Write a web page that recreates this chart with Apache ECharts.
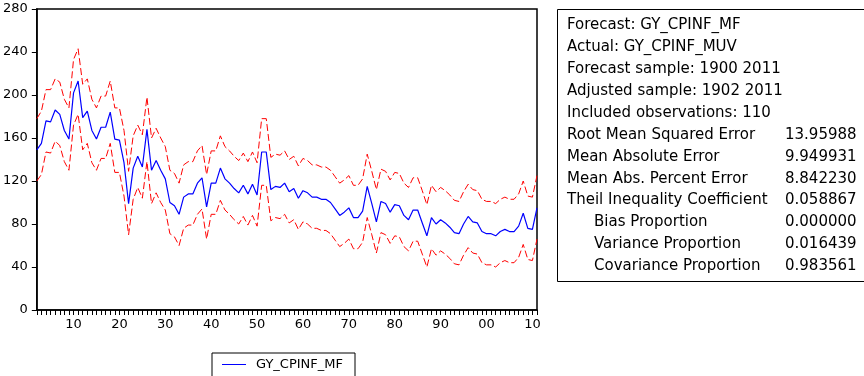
<!DOCTYPE html>
<html>
<head>
<meta charset="utf-8">
<script src="https://cdn.jsdelivr.net/npm/echarts@6/dist/echarts.min.js"></script>
<style>
  html, body { margin: 0; padding: 0; background: #fff; }
  #chart { width: 864px; height: 376px; }
</style>
</head>
<body>
<div id="chart"></div>
<script>
// sample 1902..2011
const firstYear = 1902
const lastYear = 2011
const years = []
for (let y = firstYear; y <= lastYear; y++) years.push(String(y))

const forecast = [
  149, 155, 176, 175, 186, 182, 167, 159, 202, 213,
  179, 185, 167, 159, 170, 170, 184, 159, 158, 137,
  99, 132, 143, 133, 168, 130, 139, 130, 122, 100,
  97, 89, 105, 108, 108, 118, 123, 96, 118, 118,
  132, 122, 118, 113, 109, 116, 108, 117, 107, 147,
  147, 112, 115, 114, 118, 110, 113, 104, 111, 109,
  105, 105, 103, 103, 100, 94, 88, 91, 95, 86,
  86, 92, 115, 99, 82, 101, 99, 91, 98, 97,
  88, 84, 93, 93, 81, 69, 86, 80, 84, 81,
  77, 72, 71, 80, 87, 82, 81, 73, 71, 71,
  69, 73, 75, 73, 73, 78, 90, 76, 75, 95
]

// +2 S.E.
const upperBand = [
  178, 185, 205, 205, 215, 212, 196, 188, 233, 243,
  210, 215, 196, 188, 199, 199, 213, 188, 188, 167,
  129, 162, 172, 163, 198, 160, 169, 160, 152, 130,
  127, 118, 135, 138, 138, 148, 153, 126, 148, 148,
  162, 152, 148, 143, 139, 146, 138, 147, 137, 178,
  178, 142, 145, 144, 148, 140, 143, 134, 141, 139,
  135, 135, 133, 133, 130, 124, 118, 121, 125, 116,
  116, 122, 145, 129, 112, 131, 129, 121, 128, 127,
  118, 114, 123, 123, 111, 98, 116, 110, 114, 111,
  107, 102, 101, 110, 117, 112, 111, 103, 101, 101,
  99, 103, 105, 103, 103, 108, 120, 106, 105, 125
]

// -2 S.E.
const lowerBand = [
  120, 126, 147, 146, 157, 153, 138, 130, 172, 182,
  149, 155, 137, 130, 141, 141, 155, 128, 128, 106,
  70, 103, 114, 104, 138, 99, 109, 100, 93, 71,
  68, 60, 76, 79, 79, 89, 94, 66, 89, 89,
  102, 93, 89, 84, 80, 87, 79, 88, 78, 116,
  116, 83, 86, 85, 89, 81, 84, 75, 82, 80,
  76, 76, 74, 74, 71, 65, 59, 62, 66, 57,
  57, 63, 86, 70, 53, 72, 70, 62, 69, 68,
  59, 55, 64, 64, 52, 40, 57, 51, 55, 52,
  48, 43, 42, 51, 58, 53, 52, 44, 42, 42,
  40, 44, 46, 44, 44, 49, 61, 47, 46, 66
]

const statLabels = [
  'Forecast: GY_CPINF_MF',
  'Actual: GY_CPINF_MUV',
  'Forecast sample: 1900 2011',
  'Adjusted sample: 1902 2011',
  'Included observations: 110',
  'Root Mean Squared Error',
  'Mean Absolute Error',
  'Mean Abs. Percent Error',
  'Theil Inequality Coefficient',
  'Bias Proportion',
  'Variance Proportion',
  'Covariance Proportion'
]
const statValues = ['', '', '', '', '', '13.95988', '9.949931', '8.842230', '0.058867', '0.000000', '0.016439', '0.983561']
const indentedRows = [9, 10, 11]

const FONT = '"DejaVu Sans", sans-serif'

const statText = []
statLabels.forEach((label, i) => {
  const y = 25 + i * 21.95
  statText.push({
    type: 'text',
    style: {
      text: label, x: indentedRows.includes(i) ? 594 : 567, y: y,
      font: '15px ' + FONT, fill: '#000', textVerticalAlign: 'middle'
    }
  })
  if (statValues[i]) {
    statText.push({
      type: 'text',
      style: {
        text: statValues[i], x: 785, y: y,
        font: '15px ' + FONT, fill: '#000', textVerticalAlign: 'middle'
      }
    })
  }
})

const chart = echarts.init(document.getElementById('chart'))
const option = {
  animation: false,
  backgroundColor: '#fff',
  textStyle: { fontFamily: FONT },
  grid: {
    left: 34, right: 327, top: 9, bottom: 66,
    show: true, borderColor: '#000', borderWidth: 1.5, backgroundColor: '#fff'
  },
  legend: {
    data: [{ name: 'GY_CPINF_MF', icon: 'rect' }],
    left: 212, top: 353,
    padding: [5, 12, 6, 10],
    borderColor: '#000', borderWidth: 1,
    itemWidth: 24, itemHeight: 1,
    itemGap: 10,
    textStyle: { fontSize: 13, color: '#000', fontFamily: FONT, padding: [0, 0, 0, 5] }
  },
  xAxis: {
    type: 'category',
    data: years,
    boundaryGap: false,
    axisLine: { lineStyle: { color: '#000', width: 1.5 } },
    axisTick: { interval: 0, length: 5, lineStyle: { color: '#000' } },
    axisLabel: {
      interval: (idx, v) => Number(v) % 10 === 0,
      formatter: v => v.slice(2),
      fontSize: 13, color: '#000', margin: 8, fontFamily: FONT
    },
    splitLine: { show: false }
  },
  yAxis: {
    type: 'value',
    min: 0, max: 280, interval: 40,
    axisLine: { show: true, lineStyle: { color: '#000', width: 1.5 } },
    axisTick: { show: true, length: 5, lineStyle: { color: '#000' } },
    axisLabel: { fontSize: 13, color: '#000', margin: 9, fontFamily: FONT },
    splitLine: { show: false }
  },
  series: [
    {
      name: 'upper', type: 'line', data: upperBand, symbol: 'none',
      lineStyle: { color: '#ff0000', width: 1, type: [7, 3] }
    },
    {
      name: 'lower', type: 'line', data: lowerBand, symbol: 'none',
      lineStyle: { color: '#ff0000', width: 1, type: [7, 3] }
    },
    {
      name: 'GY_CPINF_MF', type: 'line', data: forecast, symbol: 'none',
      itemStyle: { color: '#0000ff' },
      lineStyle: { color: '#0000ff', width: 1.2 }
    }
  ],
  graphic: [
    {
      type: 'rect',
      shape: { x: 557.5, y: 9.5, width: 330, height: 272 },
      style: { fill: '#fff', stroke: '#000', lineWidth: 1 }
    },
    ...statText
  ]
}
chart.setOption(option)
</script>
</body>
</html>
